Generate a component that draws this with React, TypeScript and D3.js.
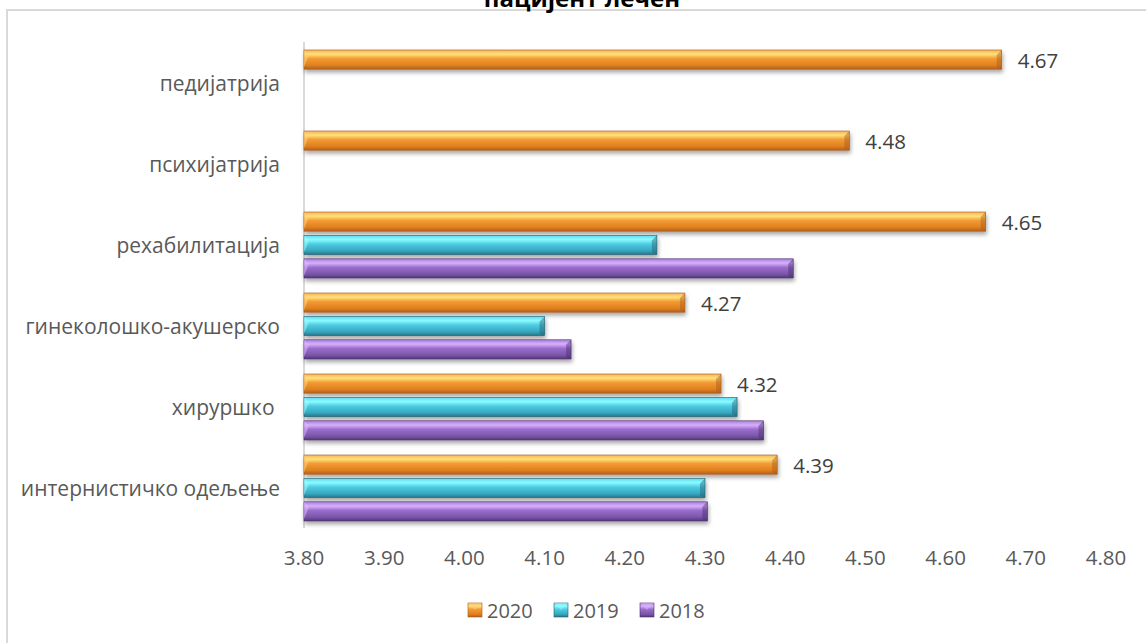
import React from "react";
import * as d3 from "d3";

const categories = [
  "педијатрија",
  "психијатрија",
  "рехабилитација",
  "гинеколошко-акушерско",
  "хируршко ",
  "интернистичко одељење",
];
const seriesNames = ["2020", "2019", "2018"];
const values2020: (number | null)[] = [4.67, 4.48, 4.65, 4.275, 4.32, 4.39];
const values2019: (number | null)[] = [null, null, 4.24, 4.1, 4.34, 4.3];
const values2018: (number | null)[] = [null, null, 4.41, 4.133, 4.373, 4.303];
const labels2020 = ["4.67", "4.48", "4.65", "4.27", "4.32", "4.39"];
const xTicks = [3.8, 3.9, 4.0, 4.1, 4.2, 4.3, 4.4, 4.5, 4.6, 4.7, 4.8];
const title = "пацијент лечен";

const W = 1146;
const H = 643;
const FONT = "'Open Sans', 'Noto Sans', sans-serif";

const palettes = [
  { id: "g2020", stops: ["#f7b15a", "#ffe27a", "#f39a33", "#e0801f", "#b3601c"], edge: "#a65a1d", bevel: "#ffd27a" },
  { id: "g2019", stops: ["#5fd9ee", "#8afcff", "#4fcbe2", "#35a8c0", "#2a7486"], edge: "#245f70", bevel: "#9efcff" },
  { id: "g2018", stops: ["#a57fd6", "#d9b0ff", "#9a6dcc", "#7a55a8", "#55387a"], edge: "#4a2f6b", bevel: "#dcb8ff" },
];

export default function App() {
  const x = d3.scaleLinear().domain([3.8, 4.8]).range([304, 1106]);
  const y = d3.scaleBand<string>().domain(categories).range([42.5, 528.5]).padding(0);
  const groupH = 66;
  const sub = d3.scaleBand<string>().domain(seriesNames).range([0, groupH]).paddingInner(0.18).paddingOuter(0);
  const seriesValues = [values2020, values2019, values2018];
  const bh = sub.bandwidth();

  return (
    <svg width={W} height={H} style={{ position: "absolute", left: 0, top: 0, background: "#fff" }}>
      <defs>
        {palettes.map((p) => (
          <linearGradient key={p.id} id={p.id} x1="0" y1="0" x2="0" y2="1">
            <stop offset="0" stopColor={p.stops[0]} />
            <stop offset="0.22" stopColor={p.stops[1]} />
            <stop offset="0.45" stopColor={p.stops[2]} />
            <stop offset="0.8" stopColor={p.stops[3]} />
            <stop offset="1" stopColor={p.stops[4]} />
          </linearGradient>
        ))}
        <filter id="shadow" x="-5%" y="-30%" width="110%" height="180%">
          <feGaussianBlur in="SourceAlpha" stdDeviation="2" />
          <feOffset dx="1" dy="3" result="b" />
          <feComponentTransfer>
            <feFuncA type="linear" slope="0.35" />
          </feComponentTransfer>
          <feMerge>
            <feMergeNode />
            <feMergeNode in="SourceGraphic" />
          </feMerge>
        </filter>
      </defs>
      <rect x={7} y={10} width={W} height={H} fill="#fff" stroke="#d9d9d9" strokeWidth={2} />
      <text x={582} y={7} textAnchor="middle" fontFamily={FONT} fontWeight="bold" fontSize={24} fill="#000">
        {title}
      </text>
      <line x1={x(3.8)} x2={x(3.8)} y1={42} y2={528} stroke="#d9d9d9" strokeWidth={2} />
      {categories.map((c) => (
        <text
          key={c}
          x={280}
          y={(y(c) as number) + y.bandwidth() / 2}
          textAnchor="end"
          dominantBaseline="central"
          fontFamily={FONT}
          fontSize={21}
          fill="#595959"
          style={{ whiteSpace: "pre" }}
        >
          {c}
        </text>
      ))}
      {xTicks.map((t) => (
        <text key={t} x={x(t)} y={565} textAnchor="middle" fontFamily={FONT} fontSize={20.5} fill="#595959">
          {t.toFixed(2)}
        </text>
      ))}
      {categories.map((c, ci) => {
        const g0 = (y(c) as number) + y.bandwidth() / 2 - groupH / 2;
        return (
          <g key={c}>
            {seriesNames.map((s, si) => {
              const v = seriesValues[si][ci];
              if (v == null) return null;
              const p = palettes[si];
              const x0 = x(3.8);
              const x1 = x(v);
              const yy = g0 + (sub(s) as number);
              const bev = 5;
              return (
                <g key={s} filter="url(#shadow)">
                  <rect x={x0} y={yy} width={x1 - x0} height={bh} fill={`url(#${p.id})`} stroke={p.edge} strokeWidth={0.6} />
                  <polygon points={`${x0},${yy} ${x0 + bev},${yy + bev} ${x0},${yy + bh - 2}`} fill={p.bevel} opacity={0.55} />
                  <polygon points={`${x1},${yy} ${x1 - bev},${yy + bev} ${x1 - bev},${yy + bh - 2} ${x1},${yy + bh}`} fill={p.edge} opacity={0.45} />
                </g>
              );
            })}
            {values2020[ci] != null && (
              <text
                x={x(values2020[ci] as number) + 16}
                y={g0 + (sub("2020") as number) + bh / 2}
                dominantBaseline="central"
                fontFamily={FONT}
                fontSize={20.5}
                fill="#404040"
              >
                {labels2020[ci]}
              </text>
            )}
          </g>
        );
      })}
      {seriesNames.map((s, i) => {
        const lx = 468 + i * 86;
        const p = palettes[i];
        return (
          <g key={s}>
            <rect x={lx} y={603} width={14} height={14} fill={`url(#${p.id})`} stroke={p.edge} strokeWidth={0.6} />
            <polygon points={`${lx},${603} ${lx + 14},${603} ${lx + 7},${610}`} fill={p.bevel} opacity={0.5} />
            <text x={lx + 19} y={610} dominantBaseline="central" fontFamily={FONT} fontSize={20} fill="#595959">
              {s}
            </text>
          </g>
        );
      })}
    </svg>
  );
}
